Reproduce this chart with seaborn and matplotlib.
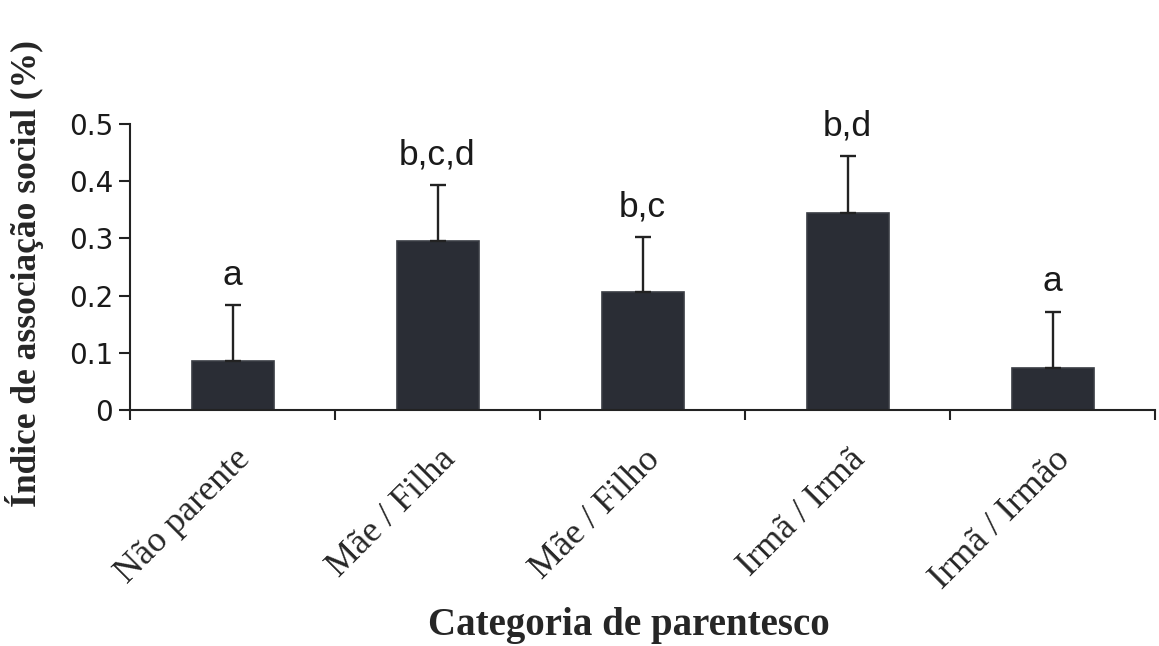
import matplotlib
matplotlib.use("Agg")
import matplotlib.pyplot as plt
import matplotlib.transforms as mtransforms
import seaborn as sns
import pandas as pd
import numpy as np

categories = ["Não parente", "Mãe / Filha", "Mãe / Filho", "Irmã / Irmã", "Irmã / Irmão"]
means = [0.085, 0.295, 0.207, 0.345, 0.073]
errors = [0.099, 0.099, 0.096, 0.099, 0.099]
letters = ["a", "b,c,d", "b,c", "b,d", "a"]
yticks = [0, 0.1, 0.2, 0.3, 0.4, 0.5]
ytick_labels = ["0", "0.1", "0.2", "0.3", "0.4", "0.5"]

df = pd.DataFrame({"cat": categories, "val": means})

sns.set_style("ticks")
W, H = 1159, 646
fig = plt.figure(figsize=(W / 100, H / 100), dpi=100)
ax = fig.add_axes([130 / W, 1 - 410 / H, 1025 / W, 286 / H])

bar_color = "#2a2d35"
sns.barplot(data=df, x="cat", y="val", order=categories, color=bar_color,
            width=0.4, edgecolor="#3a3d44", linewidth=1.2, saturation=1,
            errorbar=None, ax=ax)

x = np.arange(len(categories))
ax.errorbar(x, means, yerr=[np.zeros(len(means)), errors], fmt="none",
            ecolor="#222222", elinewidth=1.7, capsize=5.5, capthick=1.7)

for xi, m, e, t in zip(x, means, errors, letters):
    ax.annotate(t, xy=(xi, m + e), xytext=(0, 14.5), textcoords="offset points",
                ha="center", va="baseline", fontsize=25.5,
                family="Liberation Sans", color="#1a1a1a")

ax.set_xlim(-0.5, len(categories) - 0.5)
ax.set_ylim(0, 0.5)
ax.set_yticks(yticks)
ax.set_yticklabels(ytick_labels, family="DejaVu Sans", fontsize=20, color="#1a1a1a")

ax.set_xticks(x)
ax.set_xticklabels(categories, rotation=45, ha="right", va="top",
                   rotation_mode="anchor", family="Liberation Serif", fontsize=26)
ax.set_xticks(np.arange(-0.5, len(categories)), minor=True)
ax.tick_params(axis="x", which="major", length=0, pad=0)
ax.tick_params(axis="x", which="minor", length=7, width=1.5, color="#222222")
ax.tick_params(axis="y", length=8, width=1.5, color="#222222", pad=4)

offset = mtransforms.ScaledTranslation(1 / 100, -33 / 100, fig.dpi_scale_trans)
for lab in ax.get_xticklabels():
    lab.set_transform(lab.get_transform() + offset)

for s in ["top", "right"]:
    ax.spines[s].set_visible(False)
for s in ["left", "bottom"]:
    ax.spines[s].set_linewidth(1.5)
    ax.spines[s].set_color("#222222")

ax.set_xlabel("")
ax.set_ylabel("")

fig.text(629 / W, 1 - 625 / H, "Categoria de parentesco", ha="center", va="center",
         family="Liberation Serif", fontweight="bold", fontsize=28)
fig.text(25 / W, 1 - 274 / H, "Índice de associação social (%)", ha="center", va="center",
         rotation=90, family="Liberation Serif", fontweight="bold", fontsize=25.5)

fig.savefig("out.png", dpi=100, facecolor="white")
